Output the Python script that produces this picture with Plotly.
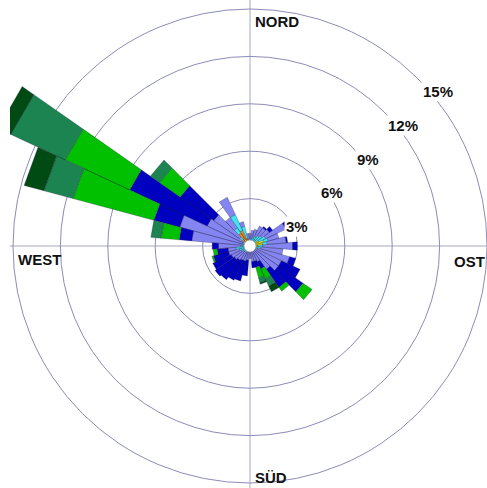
import numpy as np
import plotly.graph_objects as go

# Windrichtungen (Sektormitte, Grad von Nord im Uhrzeigersinn)
directions = list(range(0, 360, 10))

# Häufigkeit in % je Richtung und Geschwindigkeitsklasse (von innen nach außen)
klasse_1 = [0.2, 0.3, 0.3, 0.3, 0.3, 0.4, 0.6, 0.9, 0.8, 0.5, 0.3, 0.2,
            0.2, 0.2, 0.2, 0.1, 0.1, 0.1, 0.1, 0.1, 0.0, 0.0, 0.0, 0.0,
            0.0, 0.0, 0.0, 0.0, 0.0, 0.0, 0.0, 0.0, 0.5, 0.4, 0.3, 0.2]
klasse_2 = [0.0, 0.0, 0.0, 0.0, 0.0, 0.0, 0.0, 0.0, 0.0, 0.0, 0.0, 0.0,
            0.0, 0.0, 0.0, 0.0, 0.0, 0.0, 0.0, 0.0, 0.0, 0.0, 0.0, 0.0,
            0.0, 0.0, 0.0, 0.0, 0.0, 0.0, 0.0, 0.6, 0.5, 0.7, 0.2, 0.0]
klasse_3 = [0.2, 0.2, 0.3, 0.4, 0.5, 0.5, 0.5, 0.3, 0.3, 0.3, 0.4, 0.3,
            0.2, 0.2, 0.2, 0.2, 0.2, 0.2, 0.2, 0.2, 0.4, 0.4, 0.5, 0.5,
            0.6, 0.7, 0.9, 0.6, 0.5, 0.5, 0.5, 0.2, 0.4, 1.1, 0.8, 0.2]
klasse_4 = [0.4, 0.5, 0.5, 0.7, 0.6, 0.6, 1.4, 0.7, 1.2, 1.9, 1.4, 2.1,
            1.8, 1.8, 1.4, 0.8, 0.7, 0.7, 0.5, 0.6, 0.6, 0.6, 0.6, 0.7,
            0.7, 0.7, 0.5, 1.4, 3.2, 4.1, 2.5, 2.0, 0.8, 1.2, 0.3, 0.4]
klasse_5 = [0.0, 0.0, 0.0, 0.0, 0.1, 0.25, 0.2, 0.0, 0.1, 0.3, 0.0, 0.4,
            1.3, 1.9, 1.4, 0.5, 0.4, 0.4, 0.0, 1.0, 1.3, 1.4, 1.5, 1.5,
            1.3, 1.0, 0.7, 0.4, 0.8, 1.7, 5.4, 2.6, 0.0, 0.0, 0.0, 0.0]
klasse_6 = [0.0, 0.0, 0.0, 0.0, 0.0, 0.0, 0.0, 0.0, 0.0, 0.0, 0.0, 0.0,
            0.0, 0.7, 0.3, 0.7, 0.7, 0.0, 0.0, 0.0, 0.0, 0.0, 0.0, 0.0,
            0.0, 0.1, 0.25, 0.0, 1.15, 5.3, 4.5, 1.6, 0.0, 0.0, 0.0, 0.0]
klasse_7 = [0.0, 0.0, 0.0, 0.0, 0.0, 0.0, 0.0, 0.0, 0.0, 0.0, 0.0, 0.0,
            0.0, 0.0, 0.0, 0.5, 0.3, 0.0, 0.0, 0.0, 0.0, 0.0, 0.0, 0.0,
            0.0, 0.0, 0.0, 0.0, 0.65, 1.9, 3.8, 0.7, 0.0, 0.0, 0.0, 0.0]
klasse_8 = [0.0, 0.0, 0.0, 0.0, 0.0, 0.0, 0.0, 0.0, 0.0, 0.0, 0.0, 0.0,
            0.0, 0.0, 0.0, 0.4, 0.1, 0.0, 0.0, 0.0, 0.0, 0.0, 0.0, 0.0,
            0.0, 0.0, 0.0, 0.0, 0.0, 1.3, 0.9, 0.0, 0.0, 0.0, 0.0, 0.0]

klassen = [klasse_1, klasse_2, klasse_3, klasse_4, klasse_5, klasse_6, klasse_7, klasse_8]
klassen_namen = ["Klasse 1", "Klasse 2", "Klasse 3", "Klasse 4",
                 "Klasse 5", "Klasse 6", "Klasse 7", "Klasse 8"]
farben = ["#f2e600", "#e38a1e", "#3ee4f0", "#8585f2",
          "#0000c0", "#00c000", "#1c8450", "#004a14"]

ringe = [3, 6, 9, 12, 15]
ring_texte = ["3%", "6%", "9%", "12%", "15%"]

# --- Geometrie -------------------------------------------------------------
W, H = 487, 488
CX, CY = 250, 246          # Mittelpunkt der Rose in Pixeln
PX_PRO_PROZENT = 15.8
LINKS = 10                 # linker Rand der Zeichenfläche

x_range = [(LINKS - CX) / PX_PRO_PROZENT, (W - CX) / PX_PRO_PROZENT]
y_range = [-(H - CY) / PX_PRO_PROZENT, CY / PX_PRO_PROZENT]
SEKTOR = 10.0

def sektor_polygon(theta, r0, r1):
    a0 = np.radians(theta - SEKTOR / 2)
    a1 = np.radians(theta + SEKTOR / 2)
    xs = [r0 * np.sin(a0), r1 * np.sin(a0), r1 * np.sin(a1), r0 * np.sin(a1), r0 * np.sin(a0)]
    ys = [r0 * np.cos(a0), r1 * np.cos(a0), r1 * np.cos(a1), r0 * np.cos(a1), r0 * np.cos(a0)]
    return xs, ys

fig = go.Figure()

basis = np.zeros(len(directions))
for werte, name, farbe in zip(klassen, klassen_namen, farben):
    werte = np.asarray(werte, dtype=float)
    xs_all, ys_all = [], []
    for theta, r0, v in zip(directions, basis, werte):
        if v <= 0:
            continue
        xs, ys = sektor_polygon(theta, r0, r0 + v)
        xs_all += xs + [None]
        ys_all += ys + [None]
    basis = basis + werte
    if xs_all:
        fig.add_trace(go.Scatter(
            x=xs_all, y=ys_all, mode="lines", fill="toself",
            fillcolor=farbe, line=dict(color="rgba(30,30,60,0.55)", width=0.5),
            name=name, hoverinfo="skip", showlegend=False))

shapes = []
# Achsenkreuz
shapes.append(dict(type="line", xref="x", yref="y", x0=x_range[0], x1=x_range[1], y0=0, y1=0,
                   line=dict(color="#a9a9bd", width=1), layer="below"))
shapes.append(dict(type="line", xref="x", yref="y", x0=0, x1=0, y0=y_range[0], y1=y_range[1],
                   line=dict(color="#a9a9bd", width=1), layer="below"))
# Prozentringe
for v in ringe:
    shapes.append(dict(type="circle", xref="x", yref="y", x0=-v, x1=v, y0=-v, y1=v,
                       line=dict(color="#8c8cb8", width=1), layer="below"))
# weißer Kreis in der Mitte
r_mitte = 0.38
shapes.append(dict(type="circle", xref="x", yref="y", x0=-r_mitte, x1=r_mitte, y0=-r_mitte, y1=r_mitte,
                   fillcolor="white", line=dict(color="#a0a0b0", width=0.8), layer="above"))

schrift = dict(family="Liberation Sans, Arial, sans-serif", size=15, color="#111111", weight="bold")

def px(xp, yp):
    return (xp - CX) / PX_PRO_PROZENT, (CY - yp) / PX_PRO_PROZENT

annotations = []
for text, (xp, yp) in [("NORD", (253, 21)), ("OST", (452, 261)),
                       ("SÜD", (253, 477)), ("WEST", (16, 259))]:
    xd, yd = px(xp, yp)
    annotations.append(dict(x=xd, y=yd, xref="x", yref="y", text=text, showarrow=False,
                            xanchor="left", yanchor="middle", font=schrift))

for v, text in zip(ringe, ring_texte):
    annotations.append(dict(x=0.745 * v + 0.75, y=0.71 * v - 0.9, xref="x", yref="y",
                            text=text, showarrow=False, xanchor="center", yanchor="middle",
                            bgcolor="white", borderpad=1, font=schrift))

fig.update_layout(
    width=W, height=H,
    margin=dict(l=LINKS, r=0, t=0, b=0),
    paper_bgcolor="white", plot_bgcolor="white",
    xaxis=dict(range=x_range, visible=False, fixedrange=True),
    yaxis=dict(range=y_range, visible=False, fixedrange=True),
    shapes=shapes, annotations=annotations, showlegend=False,
)

fig.write_html("out.html")
